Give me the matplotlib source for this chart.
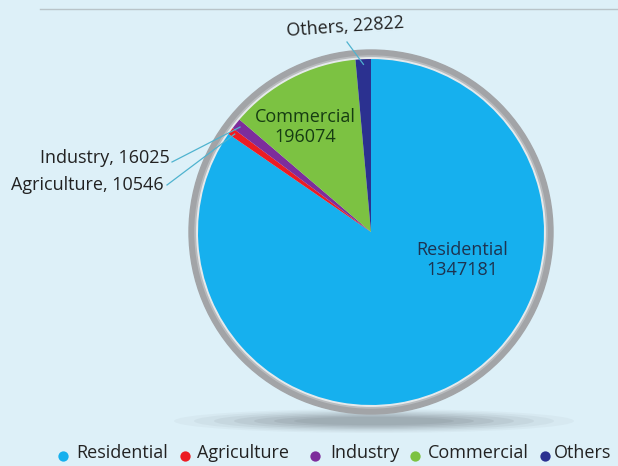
import numpy as np
import matplotlib.pyplot as plt
from matplotlib.patches import Circle, Ellipse

plt.rcParams['font.family'] = ['Open Sans', 'DejaVu Sans']

categories = ['Residential', 'Agriculture', 'Industry', 'Commercial', 'Others']
values = [1347181, 10546, 16025, 196074, 22822]
colors = ['#16b0ee', '#ec1c24', '#7d2d9c', '#7cc242', '#2b3190']

W, H = 618, 466
BG = '#ddf0f8'


def py(y):
    # pixel rows count from the top, axes from the bottom
    return H - y


fig = plt.figure(figsize=(W / 100, H / 100), dpi=100, facecolor=BG)
ax = fig.add_axes([0, 0, 1, 1])
ax.set_facecolor(BG)

# thin rule across the top
ax.plot([40, W], [py(9), py(9)], color='#b9c4c9', lw=1)

cx, cy, r = 371, py(232), 173

# soft shadow under the disc
for i, a in enumerate([0.05, 0.07, 0.09, 0.11, 0.13, 0.15, 0.15]):
    ax.add_patch(Ellipse((cx + 3, py(421)), 400 - i * 40, 24 - i * 2.6,
                         color='#6f7a80', alpha=a, lw=0, zorder=1))

# grey rim
ax.add_patch(Circle((cx, cy), r + 9, color='#a2a4a7', zorder=2))
ax.add_patch(Circle((cx, cy), r + 3, color='#b9bcbf', zorder=2))
ax.add_patch(Circle((cx, cy), r + 1.2, color='#e6eaec', zorder=2))

wedges, _ = ax.pie(values, colors=colors, startangle=90, counterclock=False,
                   center=(cx, cy), radius=r, frame=True,
                   wedgeprops=dict(linewidth=0))
for w in wedges:
    w.set_zorder(3)
ax.set_xlim(0, W)
ax.set_ylim(0, H)
ax.set_aspect('equal')
ax.axis('off')


def edge_point(w, frac=1.0):
    # point on the wedge's bisector at frac * radius
    mid = np.deg2rad((w.theta1 + w.theta2) / 2)
    return cx + frac * r * np.cos(mid), cy + frac * r * np.sin(mid)


lead = '#4fb3cf'
txt = '#222222'
fs = 13

ax.text(462, py(260), f'{categories[0]}\n{values[0]}', ha='center', va='center',
        fontsize=fs, color='#1d3350', linespacing=1.1, zorder=5)
ax.text(305, py(127), f'{categories[3]}\n{values[3]}', ha='center', va='center',
        fontsize=fs, color='#163c12', linespacing=1.1, zorder=5)

ax.text(345, py(27), f'{categories[4]}, {values[4]}', ha='center', va='center',
        fontsize=fs, color=txt, rotation=4, zorder=5)
ex, ey = edge_point(wedges[4], 0.97)
ax.plot([347, ex], [py(42), ey], color=lead, lw=0.9, zorder=4)

ax.text(170, py(158), f'{categories[2]}, {values[2]}', ha='right', va='center',
        fontsize=fs, color=txt, zorder=5)
ex, ey = edge_point(wedges[2], 0.97)
ax.plot([172, ex], [py(162), ey], color=lead, lw=0.9, zorder=4)

ax.text(164, py(185), f'{categories[1]}, {values[1]}', ha='right', va='center',
        fontsize=fs, color=txt, zorder=5)
ex, ey = edge_point(wedges[1], 0.97)
ax.plot([167, ex], [py(185), ey], color=lead, lw=0.9, zorder=4)

# legend row
marker_x = [63, 185, 315, 415, 545]
label_x = [76, 197, 330, 428, 554]
for mx, lx, name, c in zip(marker_x, label_x, categories, colors):
    ax.scatter([mx], [py(456)], s=55, color=c, lw=0, zorder=5)
    ax.text(lx, py(453), name, ha='left', va='center', fontsize=fs,
            color=txt, zorder=5)

fig.savefig('out.png', dpi=100, facecolor=BG)
